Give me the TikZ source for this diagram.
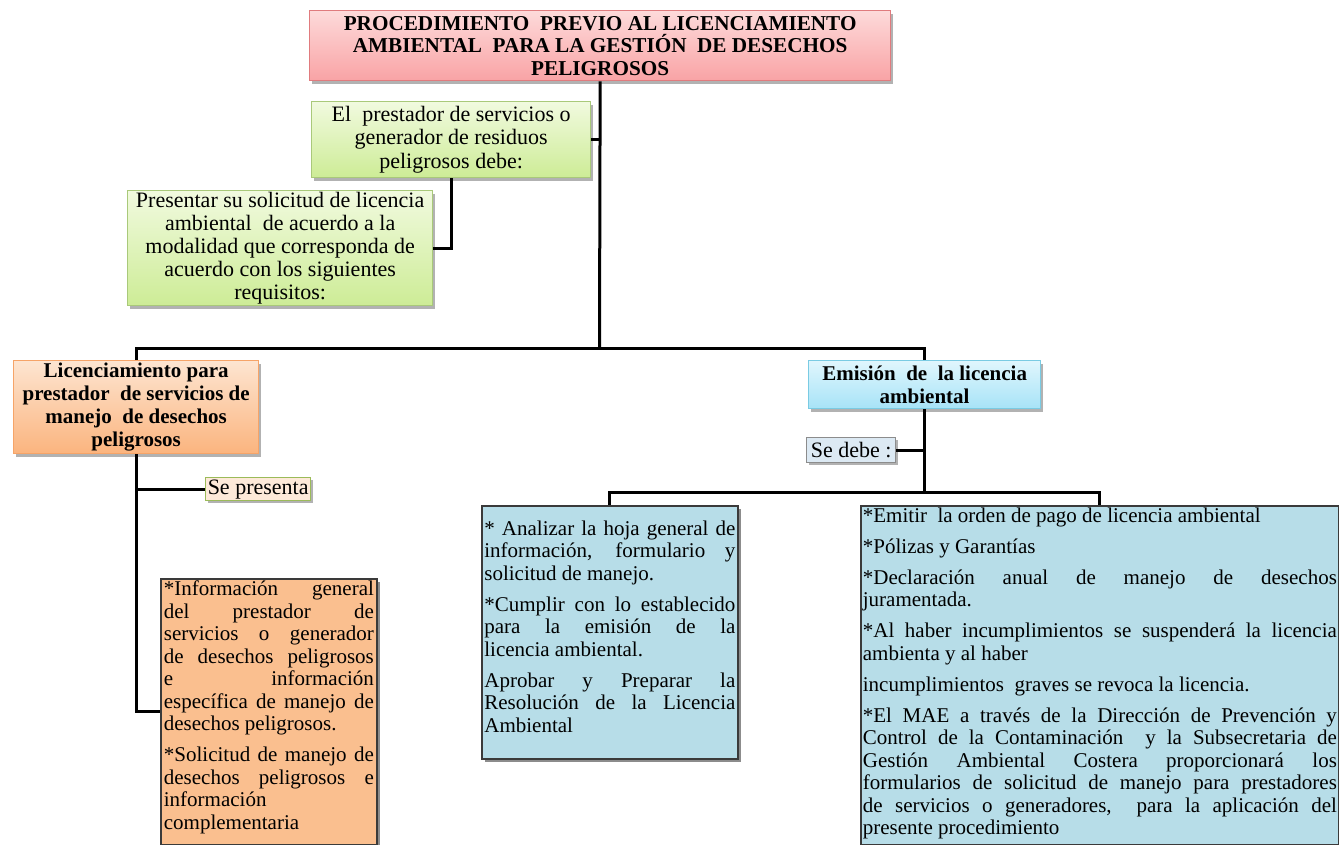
\documentclass[tikz,border=0pt]{standalone}
\usepackage{fontspec}
\setmainfont{Liberation Serif}
\usetikzlibrary{shadows,backgrounds}
\definecolor{tiTop}{HTML}{FDDADA}
\definecolor{tiBot}{HTML}{F9A3A5}
\definecolor{tiBd}{HTML}{E07B7E}
\definecolor{grTop}{HTML}{F1FADF}
\definecolor{grBot}{HTML}{CDEC96}
\definecolor{grBd}{HTML}{A9C97A}
\definecolor{orTop}{HTML}{FDE5D1}
\definecolor{orBot}{HTML}{FBB47E}
\definecolor{orBd}{HTML}{F6A468}
\definecolor{blTop}{HTML}{E0F6FD}
\definecolor{blBot}{HTML}{A7E3F7}
\definecolor{blBd}{HTML}{7ACBE3}
\definecolor{txBlue}{HTML}{B7DDE8}
\definecolor{txOr}{HTML}{FABF8F}
\definecolor{txBd}{HTML}{3A3A3A}
\definecolor{spFill}{HTML}{FDE9D9}
\definecolor{spBd}{HTML}{9BBB59}
\definecolor{sdFill}{HTML}{DCE9F3}
\definecolor{sdBd}{HTML}{8C8C8C}
\newcommand{\bodyfont}{\fontsize{21}{22.5}\selectfont}
\newcommand{\greenfont}{\fontsize{22}{23.2}\selectfont}
\newcommand{\headfont}{\fontsize{21}{22.8}\selectfont\bfseries}
\newcommand{\titlefont}{\fontsize{21.2}{22.5}\selectfont\bfseries}
\tikzset{
  hbox/.style={draw, line width=1.3pt, anchor=north west, inner sep=0pt, align=center,
    drop shadow={shadow xshift=2.5pt, shadow yshift=-3pt, fill=black, opacity=0.3}},
  tbox/.style={draw=txBd, line width=1.8pt, anchor=north west, inner ysep=0pt,
    drop shadow={shadow xshift=3pt, shadow yshift=-3pt, fill=black, opacity=0.45}},
  lbox/.style={draw, line width=1.3pt, anchor=north west, inner sep=0pt, font=\greenfont,
    drop shadow={shadow xshift=2pt, shadow yshift=-2pt, fill=black, opacity=0.3}},
  conn/.style={line width=3pt, black}
}
\begin{document}
\begin{tikzpicture}[x=1pt,y=-1pt]
\useasboundingbox (0,0) rectangle (1339,844);

\node[hbox, top color=tiTop, bottom color=tiBot, draw=tiBd, minimum width=581pt, minimum height=70pt, font=\titlefont] (title) at (309,10)
  {PROCEDIMIENTO\ \ PREVIO\ AL LICENCIAMIENTO\\AMBIENTAL\ \ PARA LA GESTIÓN\ \ DE DESECHOS\\PELIGROSOS};

\node[hbox, top color=grTop, bottom color=grBot, draw=grBd, minimum width=279pt, minimum height=76pt, font=\greenfont] (green1) at (311,101)
  {El\ \ prestador de servicios o\\generador de residuos\\peligrosos debe:};

\node[hbox, top color=grTop, bottom color=grBot, draw=grBd, minimum width=305pt, minimum height=115pt, font=\greenfont] (green2) at (127,190)
  {Presentar su solicitud de licencia\\ambiental\ \ de acuerdo a la\\modalidad que corresponda de\\acuerdo con los siguientes\\requisitos:};

\node[hbox, top color=orTop, bottom color=orBot, draw=orBd, minimum width=245pt, minimum height=93pt, font=\headfont] (lic) at (13,360)
  {Licenciamiento para\\prestador\ \ de servicios de\\manejo\ \ de desechos\\peligrosos};

\node[hbox, top color=blTop, bottom color=blBot, draw=blBd, minimum width=232pt, minimum height=48pt, font=\headfont] (emi) at (808,360)
  {Emisión\ \ de\ \ la licencia\\ambiental};

\node[lbox, fill=spFill, draw=spBd, minimum width=105pt, minimum height=23pt] (sepres) at (205,477) {Se presenta};

\node[lbox, fill=sdFill, draw=sdBd, minimum width=89pt, minimum height=25pt] (sedebe) at (806,437) {Se debe :};

\node[tbox, fill=txOr, inner xsep=3pt] (info) at (160,578)
  {\parbox[c][266pt][t]{210pt}{\bodyfont\setlength{\parskip}{8.5pt}\vspace*{-6.5pt}%
  *Información general\linebreak del prestador de\linebreak servicios o generador\linebreak de desechos peligrosos\linebreak e información\linebreak específica de manejo de\linebreak desechos peligrosos.\par
  *Solicitud de manejo de\linebreak desechos peligrosos e\linebreak información\\complementaria\par}};

\node[tbox, fill=txBlue, inner xsep=2.5pt] (blueL) at (481,505)
  {\parbox[c][253pt][t]{251pt}{\bodyfont\setlength{\parskip}{8.5pt}\vspace*{6.5pt}%
  * Analizar la hoja general de\linebreak información, formulario y\linebreak solicitud de manejo.\par
  *Cumplir con lo establecido\linebreak para la emisión de la\linebreak licencia ambiental.\par
  Aprobar y Preparar la\linebreak Resolución de la Licencia\linebreak Ambiental\par}};

\node[tbox, fill=txBlue, inner xsep=2pt] (blueR) at (860,505)
  {\parbox[c][339pt][t]{474pt}{\bodyfont\setlength{\parskip}{8.5pt}\vspace*{-6.5pt}%
  *Emitir\ \ la orden de pago de licencia ambiental\par
  *Pólizas y Garantías\par
  *Declaración anual de manejo de desechos\linebreak juramentada.\par
  *Al haber incumplimientos se suspenderá la licencia\linebreak ambienta y al haber\par
  incumplimientos\ \ graves se revoca la licencia.\par
  *El MAE a través de la Dirección de Prevención y\linebreak Control de la Contaminación\ \ y la Subsecretaria de\linebreak Gestión Ambiental Costera proporcionará los\linebreak formularios de solicitud de manejo para prestadores\linebreak de servicios o generadores,\ \ para la aplicación del\linebreak presente procedimiento\par}};

\coordinate (j1) at (599.5,348.5);
\coordinate (y492) at (0,492.5);
\coordinate (j2) at (emi.south |- y492);

\begin{pgfonlayer}{background}
\fill[white] (0,0) rectangle (1339,844);
\draw[conn] (title.south) -- (j1);
\draw[conn] (green1.east) -- (green1.east -| j1);
\draw[conn] (green1.south) |- (green2.east);
\draw[conn] (lic.north) |- (j1) -| (emi.north);
\draw[conn] (lic.south) |- (info.west);
\draw[conn] (lic.south |- sepres.west) -- (sepres.west);
\draw[conn] (emi.south) -- (j2);
\draw[conn] (sedebe.east) -- (sedebe.east -| emi.south);
\draw[conn] (blueL.north) |- (j2) -| (blueR.north);
\end{pgfonlayer}
\end{tikzpicture}
\end{document}
